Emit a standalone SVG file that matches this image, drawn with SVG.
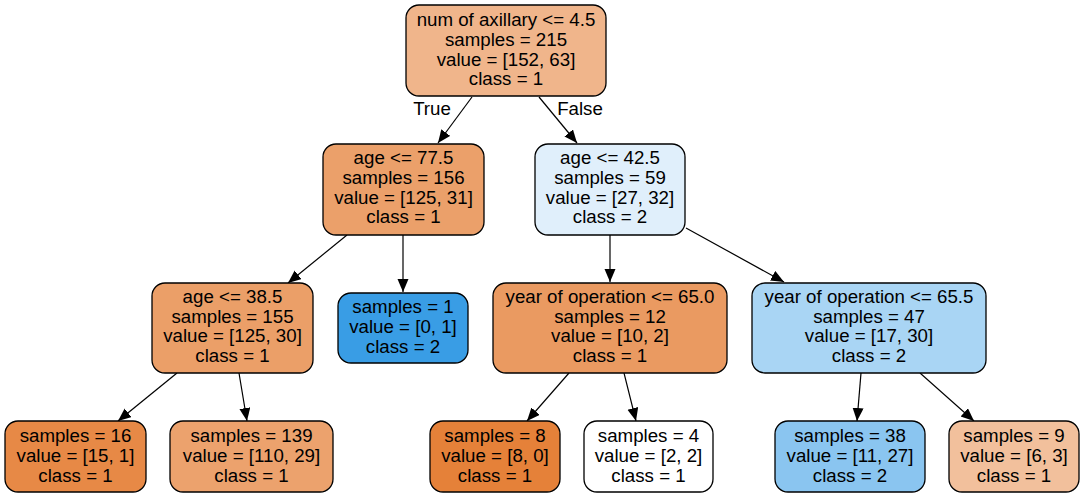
<svg xmlns="http://www.w3.org/2000/svg" width="1084" height="497" viewBox="0 0 1084 497">
<defs>
<marker id="arr" markerUnits="userSpaceOnUse" markerWidth="14" markerHeight="12" refX="13" refY="5.5" orient="auto">
<path d="M0,0 L13,5.5 L0,11 z" fill="#000"/>
</marker>
</defs>
<style>
.n rect{stroke:#000;stroke-width:1.3}
text{font-family:"Liberation Sans",Arial,sans-serif;font-size:18.7px;fill:#000;text-anchor:middle}
.e line{stroke:#000;stroke-width:1.2;marker-end:url(#arr)}
</style>
<rect width="1084" height="497" fill="#fff"/>
<g class="e" id="connectors">
<line x1="472" y1="97" x2="438" y2="143"/>
<line x1="539" y1="97" x2="577" y2="143"/>
<line x1="347" y1="235" x2="288" y2="283"/>
<line x1="403" y1="235" x2="403" y2="292"/>
<line x1="610" y1="235" x2="610" y2="282"/>
<line x1="686" y1="228" x2="784" y2="282"/>
<line x1="177" y1="373" x2="118" y2="421"/>
<line x1="239" y1="373" x2="247" y2="421"/>
<line x1="569" y1="373" x2="527" y2="421"/>
<line x1="624" y1="373" x2="636" y2="421"/>
<line x1="861" y1="373" x2="857" y2="421"/>
<line x1="920" y1="373" x2="974" y2="421"/>
<text x="432" y="115">True</text>
<text x="580" y="115">False</text>
</g>
<g class="n" id="n0">
<rect x="406" y="5" width="200" height="91" rx="13" fill="#f0b58b"/>
<text x="506" y="26">num of axillary &lt;= 4.5</text>
<text x="506" y="46">samples = 215</text>
<text x="506" y="65.5">value = [152, 63]</text>
<text x="506" y="85">class = 1</text>
</g>
<g class="n" id="n1">
<rect x="323" y="144" width="161" height="91" rx="13" fill="#eba06a"/>
<text x="403.5" y="164">age &lt;= 77.5</text>
<text x="403.5" y="184">samples = 156</text>
<text x="403.5" y="203.5">value = [125, 31]</text>
<text x="403.5" y="223">class = 1</text>
</g>
<g class="n" id="n2">
<rect x="535" y="144" width="150" height="91" rx="13" fill="#e0effb"/>
<text x="610" y="164">age &lt;= 42.5</text>
<text x="610" y="184">samples = 59</text>
<text x="610" y="203.5">value = [27, 32]</text>
<text x="610" y="223">class = 2</text>
</g>
<g class="n" id="n3">
<rect x="152" y="283" width="161" height="90" rx="13" fill="#eb9f68"/>
<text x="232.5" y="302.5">age &lt;= 38.5</text>
<text x="232.5" y="322.5">samples = 155</text>
<text x="232.5" y="342">value = [125, 30]</text>
<text x="232.5" y="362">class = 1</text>
</g>
<g class="n" id="n4">
<rect x="338" y="293" width="130" height="70" rx="13" fill="#399de5"/>
<text x="403" y="313">samples = 1</text>
<text x="403" y="333">value = [0, 1]</text>
<text x="403" y="353">class = 2</text>
</g>
<g class="n" id="n5">
<rect x="493" y="283" width="234" height="90" rx="13" fill="#ea9a61"/>
<text x="610" y="302.5">year of operation &lt;= 65.0</text>
<text x="610" y="322.5">samples = 12</text>
<text x="610" y="342">value = [10, 2]</text>
<text x="610" y="362">class = 1</text>
</g>
<g class="n" id="n6">
<rect x="752" y="283" width="234" height="90" rx="13" fill="#a9d5f4"/>
<text x="869" y="302.5">year of operation &lt;= 65.5</text>
<text x="869" y="322.5">samples = 47</text>
<text x="869" y="342">value = [17, 30]</text>
<text x="869" y="362">class = 2</text>
</g>
<g class="n" id="n7">
<rect x="5" y="421" width="141" height="71" rx="13" fill="#e78946"/>
<text x="75.5" y="442">samples = 16</text>
<text x="75.5" y="462">value = [15, 1]</text>
<text x="75.5" y="482">class = 1</text>
</g>
<g class="n" id="n8">
<rect x="170" y="421" width="163" height="71" rx="13" fill="#eca26d"/>
<text x="251.5" y="442">samples = 139</text>
<text x="251.5" y="462">value = [110, 29]</text>
<text x="251.5" y="482">class = 1</text>
</g>
<g class="n" id="n9">
<rect x="430" y="421" width="130" height="71" rx="13" fill="#e58139"/>
<text x="495" y="442">samples = 8</text>
<text x="495" y="462">value = [8, 0]</text>
<text x="495" y="482">class = 1</text>
</g>
<g class="n" id="n10">
<rect x="584" y="421" width="129" height="71" rx="13" fill="#ffffff"/>
<text x="648.5" y="442">samples = 4</text>
<text x="648.5" y="462">value = [2, 2]</text>
<text x="648.5" y="482">class = 1</text>
</g>
<g class="n" id="n11">
<rect x="775" y="421" width="150" height="71" rx="13" fill="#8ac5f0"/>
<text x="850" y="442">samples = 38</text>
<text x="850" y="462">value = [11, 27]</text>
<text x="850" y="482">class = 2</text>
</g>
<g class="n" id="n12">
<rect x="949" y="421" width="130" height="71" rx="13" fill="#f2c09c"/>
<text x="1014" y="442">samples = 9</text>
<text x="1014" y="462">value = [6, 3]</text>
<text x="1014" y="482">class = 1</text>
</g>
</svg>
